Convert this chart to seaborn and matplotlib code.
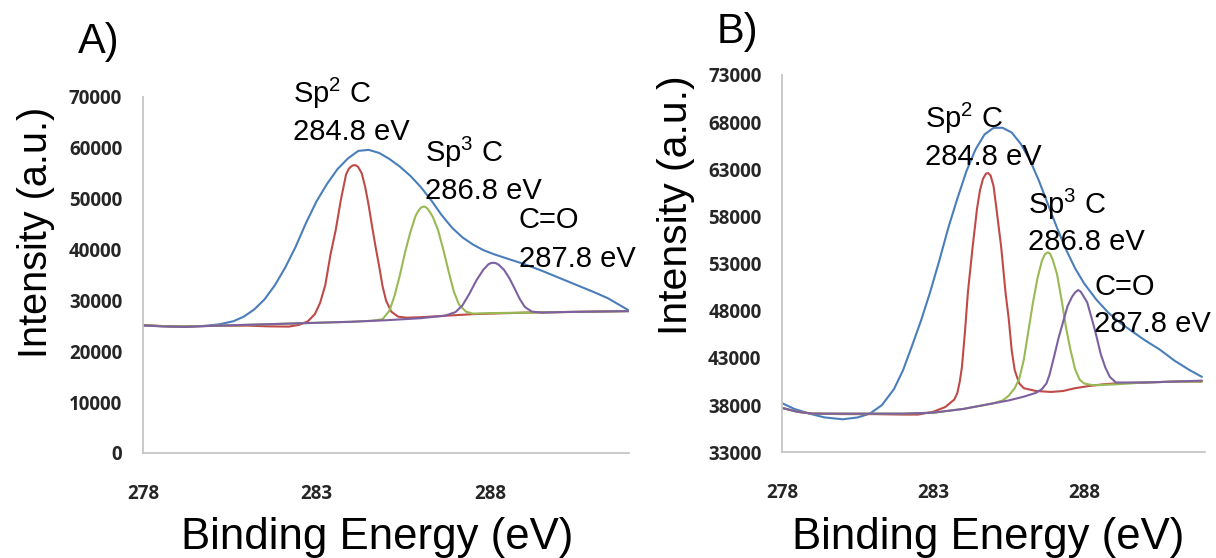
from __future__ import annotations

import matplotlib

matplotlib.use("Agg")
import matplotlib.pyplot as plt
import pandas as pd
import seaborn as sns


OUTPUT_FILE = "out.png"
SPINE_COLOR = "#C6C6C6"
TICK_TEXT_COLOR = "#262626"

COMPONENTS = ["envelope", "sp2", "sp3", "co"]
PALETTE = {"envelope": "#4A7EBB", "sp2": "#BE4B48", "sp3": "#98B954", "co": "#7D60A0"}

X_TICKS = [278, 283, 288]

# ---- panel A (counts) ----
A_ENV_X = [278.0, 278.5, 279.2, 279.8, 280.2, 280.6, 280.9, 281.2, 281.5, 281.8, 282.1, 282.4,
           282.7, 283.0, 283.3, 283.6, 283.9, 284.2, 284.5, 284.8, 285.1, 285.4, 285.7, 286.0,
           286.3, 286.6, 286.9, 287.2, 287.5, 287.8, 288.1, 288.5, 289.0, 289.5, 290.0, 290.5,
           291.0, 291.4, 291.7, 292.0]
A_ENV_Y = [25100, 24950, 24800, 25000, 25300, 25900, 26800, 28200, 30200, 33000, 36500, 40600,
           45300, 49500, 52900, 55800, 57900, 59400, 59600, 59000, 57800, 56300, 54500, 52300,
           49700, 46800, 44300, 42400, 41000, 39900, 39100, 38200, 37100, 35800, 34400, 33000,
           31600, 30400, 29200, 28000]

A_SP2_X = [278.0, 279.0, 280.0, 281.0, 281.6, 282.2, 282.5, 282.75, 282.95, 283.1, 283.25, 283.4,
           283.55, 283.7, 283.85, 283.93, 284.0, 284.05, 284.1, 284.15, 284.2, 284.3, 284.4,
           284.5, 284.6, 284.7, 284.8, 284.9, 285.0, 285.15, 285.35, 285.6, 286.0, 286.5, 287.0,
           287.5, 288.0, 289.0, 290.0, 291.0, 292.0]
A_SP2_Y = [25100, 24850, 25000, 25050, 24900, 24850, 25200, 25900, 27300, 29500, 33000, 39000,
           43800, 49800, 54800, 55900, 56350, 56550, 56600, 56500, 56200, 55000, 52300,
           48700, 44500, 40500, 36800, 32800, 30000, 27800, 26800, 26600, 26700, 26900, 27100,
           27300, 27400, 27600, 27700, 27800, 27900]

A_SP3_X = [278.0, 279.0, 280.0, 281.0, 282.0, 283.0, 284.0, 284.6, 284.9, 285.1, 285.25, 285.4,
           285.55, 285.7, 285.85, 285.93, 286.0, 286.05, 286.1, 286.15, 286.2, 286.27, 286.35,
           286.5, 286.65, 286.8, 286.95, 287.1, 287.3, 287.5, 288.0, 289.0, 290.0, 291.0, 292.0]
A_SP3_Y = [25100, 24850, 25000, 25200, 25400, 25600, 25800, 26000, 26300, 28000, 31000, 35000,
           39500, 43400, 46600, 47600, 48200, 48400, 48450, 48300, 48000, 47300, 46400,
           43800, 40000, 35800, 31800, 29200, 27800, 27400, 27500, 27600, 27700, 27800, 27900]

A_CO_X = [278.0, 278.5, 279.2, 280.0, 281.0, 282.0, 283.0, 284.0, 285.0, 286.0, 286.7, 287.0,
          287.2, 287.4, 287.6, 287.8, 287.95, 288.02, 288.1, 288.17, 288.25, 288.4, 288.55,
          288.7, 288.85, 289.0, 289.2, 289.5, 290.0, 291.0, 292.0]
A_CO_Y = [25100, 24900, 24800, 25000, 25200, 25400, 25600, 25800, 26100, 26500, 27000, 27700,
          29000, 31300, 33900, 36000, 37100, 37350, 37400, 37300, 37000, 36000, 34400,
          32400, 30300, 28700, 27800, 27600, 27700, 27800, 27900]

A_Y_TICKS = [0, 10000, 20000, 30000, 40000, 50000, 60000, 70000]

# ---- panel B ----
B_ENV_X = [278.0, 278.4, 278.9, 279.4, 280.0, 280.5, 280.9, 281.3, 281.7, 282.0, 282.3, 282.6,
           282.9, 283.2, 283.5, 283.8, 284.1, 284.4, 284.7, 285.0, 285.3, 285.6, 285.9, 286.2,
           286.5, 286.8, 287.1, 287.4, 287.7, 288.0, 288.4, 288.8, 289.2, 289.6, 290.0, 290.5,
           291.0, 291.5, 291.9]
B_ENV_Y = [38200, 37600, 37100, 36700, 36500, 36700, 37100, 38000, 39700, 41700, 44300, 47000,
           50000, 53300, 56800, 59900, 62800, 65100, 66700, 67400, 67400, 66900, 65700, 64000,
           61800, 59300, 56800, 54500, 52500, 50900, 49200, 47800, 46700, 45800, 44900, 43900,
           42700, 41700, 41000]

B_SP2_X = [278.0, 278.5, 279.0, 280.0, 281.0, 282.0, 282.5, 283.0, 283.4, 283.7, 283.8, 283.88,
           283.95, 284.05, 284.15, 284.3, 284.45, 284.55, 284.65, 284.75, 284.82, 284.9, 285.0,
           285.1, 285.25, 285.4, 285.5, 285.6, 285.7, 285.85, 286.0, 286.4, 286.9, 287.3, 287.7,
           288.1, 288.6, 289.0, 290.0, 291.0, 291.9]
B_SP2_Y = [37700, 37300, 37100, 37050, 37050, 37000, 37000, 37300, 37800, 38600, 39300, 40500,
           42000, 45700, 50000, 54600, 58800, 60800, 62000, 62550, 62600, 62350, 61200,
           58700, 54800, 49800, 47200, 43800, 41700, 40300, 39800, 39500, 39400, 39500, 39800,
           40000, 40200, 40300, 40400, 40500, 40500]

B_SP3_X = [278.0, 278.5, 279.0, 280.0, 281.0, 282.0, 283.0, 283.5, 284.0, 284.5, 285.0, 285.3,
           285.5, 285.7, 285.85, 286.0, 286.15, 286.3, 286.45, 286.6, 286.7, 286.8, 286.87,
           286.95, 287.1, 287.25, 287.4, 287.55, 287.7, 287.85, 288.0, 288.3, 289.0, 290.0,
           291.0, 291.9]
B_SP3_Y = [37700, 37300, 37100, 37100, 37100, 37100, 37200, 37400, 37600, 37900, 38200, 38500,
           39000, 39800, 40800, 42800, 45800, 48800, 51400, 53300, 54000, 54200, 54050,
           53500, 51900, 49200, 46200, 43800, 41800, 40700, 40300, 40100, 40200, 40400,
           40500, 40500]

B_CO_X = [278.0, 278.5, 279.0, 280.0, 281.0, 282.0, 283.0, 283.5, 284.0, 284.5, 285.0, 285.5,
          286.0, 286.4, 286.6, 286.75, 286.85, 287.0, 287.15, 287.3, 287.45, 287.6, 287.7, 287.8,
          287.88, 287.95, 288.1, 288.25, 288.4, 288.55, 288.7, 288.85, 289.05, 289.5, 290.0,
          291.0, 291.9]
B_CO_Y = [37700, 37300, 37100, 37100, 37100, 37100, 37200, 37400, 37600, 37900, 38200, 38500,
          38900, 39300, 39700, 40300, 41200, 43100, 45100, 46800, 48500, 49500, 49950, 50200,
          50050, 49700, 48900, 47200, 45400, 43400, 42000, 41000, 40400, 40400, 40400,
          40500, 40600]

B_Y_TICKS = [33000, 38000, 43000, 48000, 53000, 58000, 63000, 68000, 73000]

PEAK_NAMES = ["Sp$^2$ C", "Sp$^3$ C", "C=O"]
PEAK_ENERGIES = ["284.8 eV", "286.8 eV", "287.8 eV"]

# label anchors (data coords): x, y of name line, y of energy line
A_LABEL_POS = [(282.31, 68800, 61500), (286.13, 57300, 49900), (288.82, 44200, 36600)]
B_LABEL_POS = [(282.73, 67350, 63500), (286.15, 58300, 54400), (288.33, 49700, 45800)]


def long_frame(series: dict[str, tuple[list[float], list[float]]]) -> pd.DataFrame:
    parts = []
    for name, (xs, ys) in series.items():
        parts.append(pd.DataFrame({"energy": xs, "intensity": ys, "component": name}))
    return pd.concat(parts, ignore_index=True)


def draw_panel(ax, df, y_ticks, label_pos, ylabel_xy, xlabel_xy, ylabel_size, xlabel_size) -> None:
    sns.lineplot(
        data=df, x="energy", y="intensity", hue="component", hue_order=COMPONENTS,
        palette=PALETTE, estimator=None, sort=False, linewidth=1.5, legend=False, ax=ax,
    )
    for line in ax.get_lines():
        line.set_solid_joinstyle("round")
        line.set_solid_capstyle("round")

    ax.set_xlim(278, 292)
    ax.set_ylim(y_ticks[0], y_ticks[-1])
    ax.set_xticks(X_TICKS)
    ax.set_yticks(y_ticks)
    ax.set_xticklabels([str(t) for t in X_TICKS])
    ax.set_yticklabels([str(t) for t in y_ticks])

    for side in ["top", "right"]:
        ax.spines[side].set_visible(False)
    for side in ["left", "bottom"]:
        ax.spines[side].set_color(SPINE_COLOR)
        ax.spines[side].set_linewidth(1.3)

    ax.tick_params(axis="both", direction="out", length=5, width=1.2, color=SPINE_COLOR,
                   labelcolor=TICK_TEXT_COLOR)
    ax.tick_params(axis="x", pad=17)
    ax.tick_params(axis="y", pad=10)
    for lab in ax.get_xticklabels() + ax.get_yticklabels():
        lab.set_fontfamily("Open Sans")
        lab.set_fontweight("bold")
        lab.set_fontsize(13.5)

    ax.set_xlabel("Binding Energy (eV)", fontsize=xlabel_size, color="black")
    ax.set_ylabel("Intensity (a.u.)", fontsize=ylabel_size, color="black")
    ax.xaxis.label.set_verticalalignment("baseline")
    ax.xaxis.set_label_coords(*xlabel_xy)
    ax.yaxis.label.set_verticalalignment("center")
    ax.yaxis.set_label_coords(*ylabel_xy)

    for name, energy, (x, y_name, y_energy) in zip(PEAK_NAMES, PEAK_ENERGIES, label_pos):
        ax.text(x, y_name, name, fontsize=21, va="baseline", ha="left", color="black")
        ax.text(x, y_energy, energy, fontsize=21, va="baseline", ha="left", color="black")


def main() -> None:
    sns.set_style("white")
    plt.rcParams["font.family"] = ["Liberation Sans", "DejaVu Sans"]
    plt.rcParams["mathtext.fontset"] = "custom"
    plt.rcParams["mathtext.rm"] = "Liberation Sans"
    plt.rcParams["mathtext.it"] = "Liberation Sans"
    plt.rcParams["text.color"] = "black"
    plt.rcParams["axes.labelcolor"] = "black"

    df_a = long_frame({
        "envelope": (A_ENV_X, A_ENV_Y),
        "sp2": (A_SP2_X, A_SP2_Y),
        "sp3": (A_SP3_X, A_SP3_Y),
        "co": (A_CO_X, A_CO_Y),
    })
    df_b = long_frame({
        "envelope": (B_ENV_X, B_ENV_Y),
        "sp2": (B_SP2_X, B_SP2_Y),
        "sp3": (B_SP3_X, B_SP3_Y),
        "co": (B_CO_X, B_CO_Y),
    })

    fig = plt.figure(figsize=(12.16, 5.58), dpi=100)
    ax_a = fig.add_axes([0.1176, 0.1882, 0.3997, 0.638])
    ax_b = fig.add_axes([0.6433, 0.1894, 0.3476, 0.6762])

    draw_panel(ax_a, df_a, A_Y_TICKS, A_LABEL_POS, (-0.220, 0.62), (0.4825, -0.2697), 28.5, 31.5)
    draw_panel(ax_b, df_b, B_Y_TICKS, B_LABEL_POS, (-0.251, 0.655), (0.4866, -0.2563), 29.5, 31.5)

    fig.text(0.0641, 0.905, "A)", fontsize=30, va="baseline", color="black")
    fig.text(0.5896, 0.923, "B)", fontsize=30, va="baseline", color="black")

    fig.savefig(OUTPUT_FILE, dpi=100, facecolor="white")
    plt.close(fig)


if __name__ == "__main__":
    main()
